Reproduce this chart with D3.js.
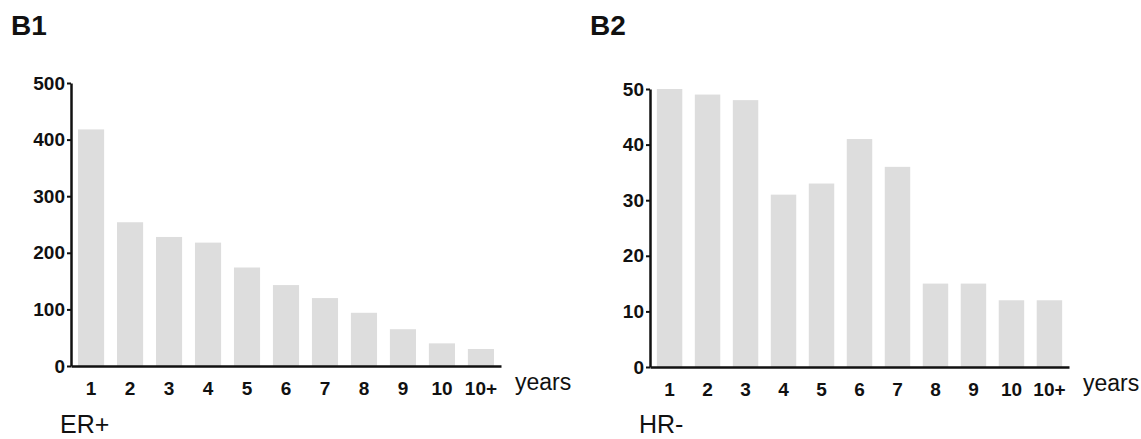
<!DOCTYPE html>
<html>
<head>
<meta charset="utf-8">
<script src="https://cdn.jsdelivr.net/npm/d3@7"></script>
<style>
  body { margin: 0; background: #fff; }
  svg text { font-family: Arial, "Liberation Sans", Helvetica, sans-serif; fill: #111; }
  .axis path, .axis line { stroke: #111; }
</style>
</head>
<body>
<div id="chart"></div>
<script>
// year buckets since diagnosis
var categories = ["1", "2", "3", "4", "5", "6", "7", "8", "9", "10", "10+"];

// B1: ER+ counts
var erPlusCounts = [418, 254, 228, 218, 174, 143, 120, 94, 65, 40, 30];
var erTicks = [0, 100, 200, 300, 400, 500];

// B2: HR- counts
var hrNegCounts = [50, 49, 48, 31, 33, 41, 36, 15, 15, 12, 12];
var hrTicks = [0, 10, 20, 30, 40, 50];

var w = 1141;
var h = 439;

var svg = d3.select("#chart")
  .append("svg")
  .attr("width", w)
  .attr("height", h);

function styleTicks(a) {
  a.selectAll("text")
    .style("font-family", "Arial, 'Liberation Sans', Helvetica, sans-serif")
    .style("font-size", "19px")
    .style("font-weight", "bold")
    .style("fill", "#111");
  a.select(".domain").attr("stroke-width", 2.5);
  a.selectAll(".tick line").attr("stroke-width", 2);
}

function barPanel(values, ticks, panel, group, x0, x1, yTop, yBottom) {

  var xScale = d3.scaleBand()
    .domain(categories)
    .range([x0, x1])
    .paddingInner(0.33)
    .paddingOuter(0.18);

  var yScale = d3.scaleLinear()
    .domain([0, d3.max(ticks)])
    .range([yBottom, yTop]);

  var g = svg.append("g");

  g.selectAll("rect")
    .data(values)
    .enter()
    .append("rect")
    .attr("x", function(d, i) { return xScale(categories[i]); })
    .attr("y", function(d) { return yScale(d); })
    .attr("width", xScale.bandwidth())
    .attr("height", function(d) { return yBottom - yScale(d); })
    .attr("fill", "#dddddd");

  // Add Axis
  var yAxis = d3.axisLeft()
    .scale(yScale)
    .tickValues(ticks)
    .tickSize(4)
    .tickSizeOuter(0)
    .tickPadding(2);

  var xAxis = d3.axisBottom()
    .scale(xScale)
    .tickSize(0)
    .tickPadding(16);

  g.append("g")
    .attr("class", "axis")
    .attr("transform", "translate(0," + yBottom + ")")
    .call(xAxis)
    .call(styleTicks);

  g.append("g")
    .attr("class", "axis")
    .attr("transform", "translate(" + x0 + ",0)")
    .call(yAxis)
    .call(styleTicks);

  g.append("text")
    .attr("x", x1 + 14)
    .attr("y", yBottom + 24)
    .style("font-size", "23px")
    .text("years");

  g.append("text")
    .attr("x", x0 - 60)
    .attr("y", 35)
    .style("font-size", "28px")
    .style("font-weight", "bold")
    .text(panel);

  g.append("text")
    .attr("x", x0 - 11)
    .attr("y", 433)
    .style("font-size", "25px")
    .text(group);
}

barPanel(erPlusCounts, erTicks, "B1", "ER+", 71, 501, 83, 366);
barPanel(hrNegCounts, hrTicks, "B2", "HR-", 650, 1069, 89, 367);
</script>
</body>
</html>
